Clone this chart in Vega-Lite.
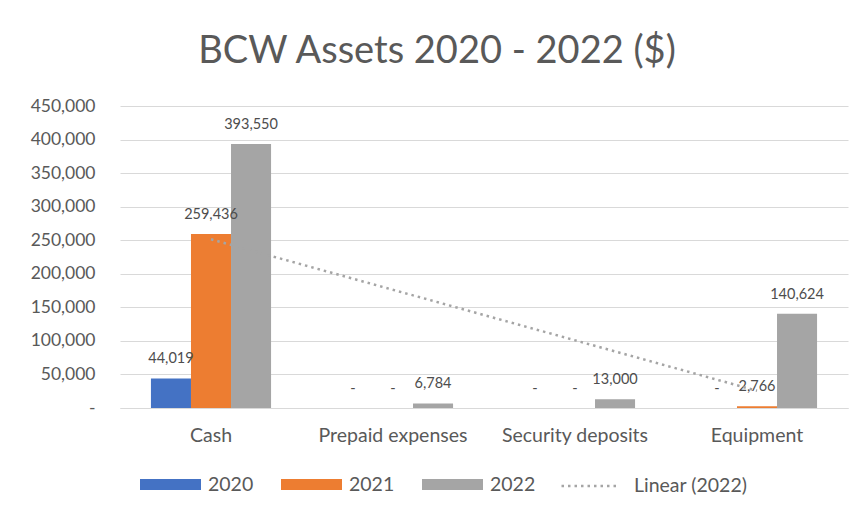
{
  "$schema": "https://vega.github.io/schema/vega-lite/v6.json",
  "width": 728,
  "height": 302,
  "autosize": {"type": "none"},
  "padding": {"left": 120, "top": 106, "right": 17, "bottom": 107},
  "background": "white",
  "config": {
    "font": "Lato",
    "view": {"stroke": null},
    "axis": {"labelFont": "Lato", "labelColor": "#595959", "titleFont": "Lato"},
    "legend": {"labelFont": "Lato"}
  },
  "title": {
    "text": "BCW Assets 2020 - 2022 ($)",
    "fontSize": 38,
    "font": "Lato",
    "fontWeight": "normal",
    "color": "#595959",
    "anchor": "middle",
    "frame": "group",
    "dx": -47,
    "offset": 26
  },
  "data": {
    "values": [
      {"category": "Cash", "series": "2020", "value": 44019},
      {"category": "Cash", "series": "2021", "value": 259436},
      {"category": "Cash", "series": "2022", "value": 393550},
      {"category": "Prepaid expenses", "series": "2020", "value": 0},
      {"category": "Prepaid expenses", "series": "2021", "value": 0},
      {"category": "Prepaid expenses", "series": "2022", "value": 6784},
      {"category": "Security deposits", "series": "2020", "value": 0},
      {"category": "Security deposits", "series": "2021", "value": 0},
      {"category": "Security deposits", "series": "2022", "value": 13000},
      {"category": "Equipment", "series": "2020", "value": 0},
      {"category": "Equipment", "series": "2021", "value": 2766},
      {"category": "Equipment", "series": "2022", "value": 140624}
    ]
  },
  "encoding": {
    "x": {
      "field": "category",
      "type": "nominal",
      "sort": ["Cash", "Prepaid expenses", "Security deposits", "Equipment"],
      "scale": {"paddingInner": 0.34, "paddingOuter": 0.17},
      "axis": {
        "title": null,
        "labelAngle": 0,
        "labelFontSize": 19.5,
        "labelPadding": 18,
        "ticks": false,
        "domain": true,
        "domainColor": "#D9D9D9",
        "domainWidth": 1
      }
    },
    "y": {
      "field": "value",
      "type": "quantitative",
      "scale": {"domain": [0, 450000], "nice": false},
      "axis": {
        "title": null,
        "values": [0, 50000, 100000, 150000, 200000, 250000, 300000, 350000, 400000, 450000],
        "labelExpr": "datum.value === 0 ? '-' : format(datum.value, ',')",
        "labelFontSize": 17.5,
        "labelPadding": 25,
        "ticks": false,
        "domain": false,
        "gridColor": "#D9D9D9",
        "gridWidth": 1
      }
    }
  },
  "layer": [
    {
      "mark": {"type": "bar"},
      "encoding": {
        "xOffset": {"field": "series", "type": "nominal", "scale": {"paddingInner": 0, "paddingOuter": 0}},
        "color": {
          "field": "series",
          "type": "nominal",
          "scale": {"domain": ["2020", "2021", "2022"], "range": ["#4472C4", "#ED7D31", "#A5A5A5"]},
          "legend": {
            "orient": "none",
            "direction": "horizontal",
            "legendX": 20,
            "legendY": 348,
            "title": null,
            "symbolType": "M-1,-0.18H1V0.18H-1Z",
            "symbolSize": 3721,
            "symbolStrokeWidth": 0,
            "labelFontSize": 19.5,
            "labelColor": "#595959",
            "labelOffset": 7,
            "columnPadding": 27
          }
        }
      }
    },
    {
      "transform": [
        {"calculate": "datum.value === 0 ? '-' : format(datum.value, ',')", "as": "label"}
      ],
      "mark": {"type": "text", "baseline": "middle", "dy": -19, "fontSize": 14.5, "color": "#4D4D4D", "font": "Lato"},
      "encoding": {
        "xOffset": {"field": "series", "type": "nominal"},
        "text": {"field": "label"}
      }
    },
    {
      "transform": [
        {"filter": "datum.series === '2022'"},
        {"window": [{"op": "row_number", "as": "idx"}]},
        {"regression": "value", "on": "idx"},
        {"calculate": "['Cash', 'Prepaid expenses', 'Security deposits', 'Equipment'][datum.idx - 1]", "as": "category"},
        {"calculate": "'Linear (2022)'", "as": "trend"}
      ],
      "mark": {"type": "line", "color": "#A5A5A5", "strokeWidth": 2.5},
      "encoding": {
        "strokeDash": {
          "field": "trend",
          "type": "nominal",
          "scale": {"domain": ["Linear (2022)"], "range": [[2.5, 4]]},
          "legend": {
            "orient": "none",
            "direction": "horizontal",
            "legendX": 440,
            "legendY": 351,
            "title": null,
            "symbolType": "stroke",
            "symbolSize": 3025,
            "symbolStrokeColor": "#A5A5A5",
            "symbolStrokeWidth": 2.5,
            "labelFontSize": 19.5,
            "labelColor": "#595959",
            "labelOffset": 16
          }
        }
      }
    }
  ]
}
